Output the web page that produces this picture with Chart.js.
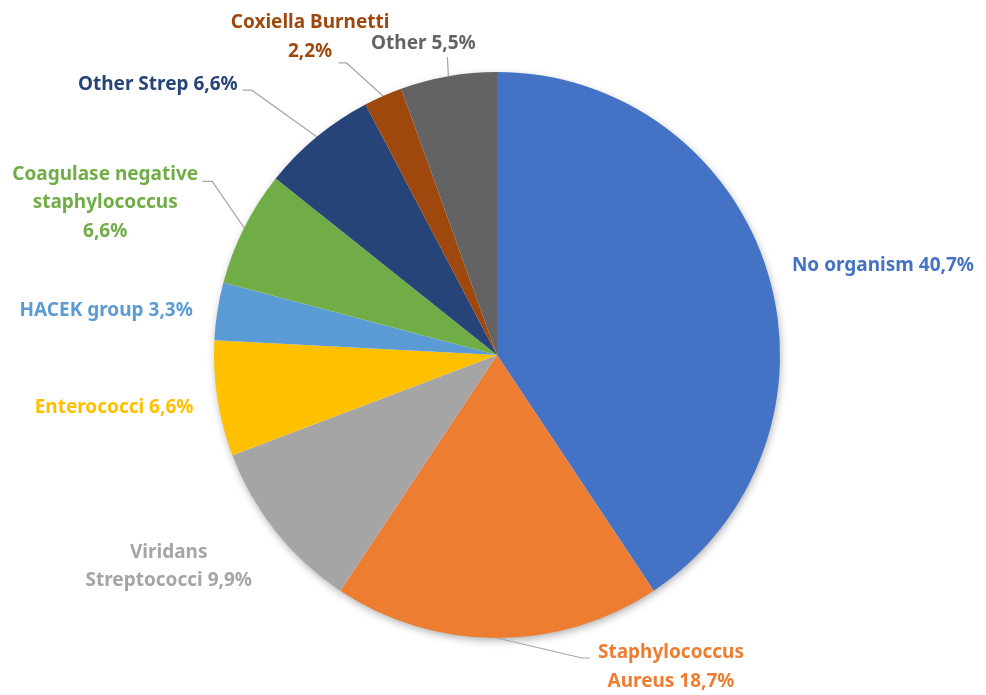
<!DOCTYPE html>
<html>
<head>
<meta charset="utf-8">
<script src="https://cdn.jsdelivr.net/npm/chart.js@4.4.1/dist/chart.umd.min.js"></script>
<style>
  html, body { margin: 0; padding: 0; background: #fff; }
  #wrap { width: 986px; height: 695px; }
</style>
</head>
<body>
<div id="wrap"><canvas id="pie" width="986" height="695"></canvas></div>
<script>
const organisms = ['No organism', 'Staphylococcus Aureus', 'Viridans Streptococci', 'Enterococci',
  'HACEK group', 'Coagulase negative staphylococcus', 'Other Strep', 'Coxiella Burnetti', 'Other'];
const percents = [40.7, 18.7, 9.9, 6.6, 3.3, 6.6, 6.6, 2.2, 5.5];
// how each label breaks into lines (name part)
const labelLines = [
  ['No organism {v}'],
  ['Staphylococcus', 'Aureus {v}'],
  ['Viridans', 'Streptococci {v}'],
  ['Enterococci {v}'],
  ['HACEK group {v}'],
  ['Coagulase negative', 'staphylococcus', '{v}'],
  ['Other Strep {v}'],
  ['Coxiella Burnetti', '{v}'],
  ['Other {v}']
];

const colors = ['#4472C4', '#ED7D31', '#A5A5A5', '#FFC000', '#5B9BD5', '#70AD47', '#264478', '#9E480E', '#636363'];
const textColors = ['#4472C4', '#ED7D31', '#A5A5A5', '#FFC000', '#5B9BD5', '#70AD47', '#264478', '#9E480E', '#636363'];

// label placement relative to the slice's outer mid point
// t = text offset, align, leader = polyline points after the anchor
const labelLayout = [
  { t: [24, -7.5], align: 'left' },
  { t: [174, 15], align: 'center', leader: [[85, 20], [93, 20]] },
  { t: [-107, 21], align: 'center' },
  { t: [-24, 9], align: 'right' },
  { t: [-24.6, -1], align: 'right' },
  { t: [-139, -53.5], align: 'center', leader: [[-32, -46.5], [-42, -46.5]] },
  { t: [-79, -52.6], align: 'right', leader: [[-65, -46.6], [-74, -46.6]] },
  { t: [-73, -73], align: 'center', leader: [[-36.6, -33], [-44.6, -33]] },
  { t: [-25, -33], align: 'center', leader: [[-1, -19]] }
];

const fmt = v => v.toFixed(1).replace('.', ',') + '%';

const pieShadow = {
  id: 'pieShadow',
  beforeDatasetsDraw(chart) {
    const arc = chart.getDatasetMeta(0).data[0];
    if (!arc) return;
    const ctx = chart.ctx;
    ctx.save();
    ctx.shadowColor = 'rgba(0,0,0,0.35)';
    ctx.shadowBlur = 9;
    ctx.shadowOffsetX = 1;
    ctx.shadowOffsetY = 3;
    ctx.fillStyle = '#fff';
    ctx.beginPath();
    ctx.arc(arc.x, arc.y, arc.outerRadius - 1, 0, Math.PI * 2);
    ctx.fill();
    ctx.restore();
  }
};

const sliceLabels = {
  id: 'sliceLabels',
  afterDatasetsDraw(chart) {
    const ctx = chart.ctx;
    const arcs = chart.getDatasetMeta(0).data;
    ctx.save();
    ctx.font = 'bold 19px "Noto Sans", Lato, sans-serif';
    ctx.textBaseline = 'middle';
    arcs.forEach((arc, i) => {
      const mid = (arc.startAngle + arc.endAngle) / 2;
      const ax = arc.x + arc.outerRadius * Math.cos(mid);
      const ay = arc.y + arc.outerRadius * Math.sin(mid);
      const lay = labelLayout[i];
      if (lay.leader) {
        ctx.strokeStyle = '#A6A6A6';
        ctx.lineWidth = 1.2;
        ctx.beginPath();
        ctx.moveTo(ax, ay);
        lay.leader.forEach(p => ctx.lineTo(ax + p[0], ay + p[1]));
        ctx.stroke();
      }
      ctx.fillStyle = textColors[i];
      ctx.textAlign = lay.align;
      labelLines[i].forEach((line, k) => {
        const txt = line.replace('{v}', fmt(percents[i]));
        ctx.fillText(txt, ax + lay.t[0], ay + lay.t[1] + k * 28.5);
      });
    });
    ctx.restore();
  }
};

new Chart(document.getElementById('pie'), {
  type: 'pie',
  data: {
    labels: organisms,
    datasets: [{
      data: percents,
      backgroundColor: colors,
      borderWidth: 0,
      hoverOffset: 0
    }]
  },
  options: {
    responsive: false,
    animation: false,
    radius: 283,
    layout: { padding: { left: 214, right: 206, top: 72, bottom: 57 } },
    plugins: {
      legend: { display: false },
      tooltip: { enabled: false }
    }
  },
  plugins: [pieShadow, sliceLabels]
});
</script>
</body>
</html>
